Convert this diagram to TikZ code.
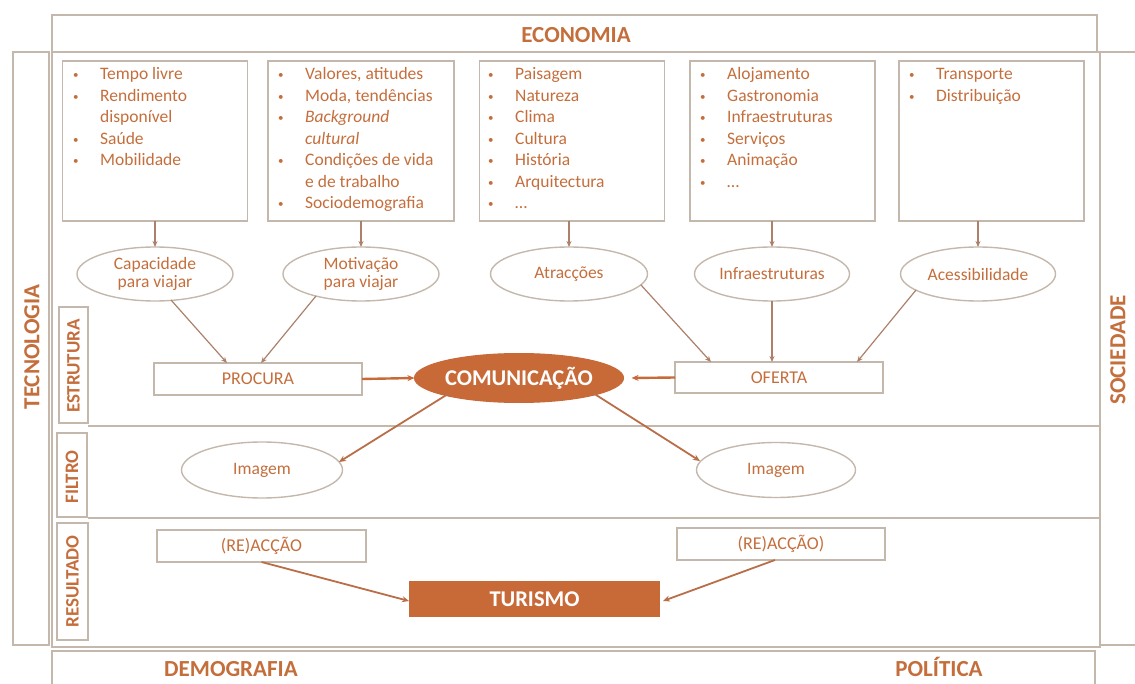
\documentclass[tikz,border=0pt]{standalone}
\usepackage{fontspec}
\setmainfont{Carlito}
\usetikzlibrary{shapes.geometric,arrows.meta,calc}
\definecolor{frm}{RGB}{196,184,172}
\definecolor{txo}{RGB}{196,110,60}
\definecolor{fio}{RGB}{200,106,56}
\definecolor{arc}{RGB}{172,128,106}
\definecolor{arb}{RGB}{185,110,72}
\newcommand\smbul{{\fontsize{11}{11}\selectfont\raisebox{1pt}{•}}}
\newcommand\bitems[1]{{\fontsize{17.5}{21.5}\selectfont\renewcommand\arraystretch{1}\begin{tabular}[t]{@{}p{27pt}@{}l@{}}#1\end{tabular}}}
\begin{document}
\begin{tikzpicture}[x=1pt,y=-1pt,
  frame/.style={draw=frm, line width=1.8pt},
  topbox/.style={draw=frm, line width=1.8pt, rectangle, inner sep=0, outer sep=0},
  listtxt/.style={anchor=base west, inner sep=0, text=txo},
  ell/.style={ellipse, draw=frm, line width=1.4pt, text=txo, align=center, inner sep=0, outer sep=0,
     font=\fontsize{17.5}{18}\selectfont},
  rbox/.style={rectangle, draw=frm, line width=1.8pt, text=txo, inner sep=0, outer sep=0,
     font=\fontsize{18}{20}\selectfont},
  head/.style={text=txo, font=\fontsize{23}{26}\selectfont\bfseries, inner sep=0},
  side/.style={text=txo, font=\fontsize{19}{22}\selectfont\bfseries, inner sep=0, rotate=90},
  arr/.style={draw=arc, line width=1.2pt, -{Stealth[length=6pt,width=5pt]}},
  oarr/.style={draw=fio, line width=2.4pt, -{Stealth[length=7pt,width=6pt]}},
  barr/.style={draw=arb, line width=1.8pt, -{Stealth[length=7pt,width=6pt]}}]
\path[use as bounding box] (0,0) rectangle (1135,684);
\clip (0,0) rectangle (1135,684);
% outer frames
\draw[frame] (52,15) rectangle (1097,52);
\draw[frame] (13,52) rectangle (49,645);
\draw[frame] (1100,52) rectangle (1145,645);
\draw[frame] (52,52) rectangle (1100,647);
\draw[frame] (52,695) -- (52,651) -- (1095,651) -- (1095,695);
\draw[frame] (88,426) -- (1100,426);
\draw[frame] (88,518) -- (1100,518);
\node[head] (eco) at (576,35) {ECONOMIA};
\node[head, rotate=90] (tec) at (32,347) {TECNOLOGIA};
\node[head, rotate=90] (soc) at (1118,350) {SOCIEDADE};
\node[head, anchor=base] (dem) at (231,676) {DEMOGRAFIA};
\node[head, anchor=base] (pol) at (939,676) {POLÍTICA};
% side labels
\draw[frame] (59,307) rectangle (88,423);
\draw[frame] (57,433) rectangle (87,517);
\draw[frame] (57,523) rectangle (88,640);
\node[side] (est) at (73.5,366) {ESTRUTURA};
\node[side] (fil) at (72,477) {FILTRO};
\node[side] (res) at (72.5,581.5) {RESULTADO};
% top boxes
\node[topbox, minimum width=185, minimum height=160] (b1) at (155,141) {};
\node[topbox, minimum width=186, minimum height=160] (b2) at (361,141) {};
\node[topbox, minimum width=185, minimum height=160] (b3) at (572,141) {};
\node[topbox, minimum width=185, minimum height=160] (b4) at (782.5,141) {};
\node[topbox, minimum width=185, minimum height=160] (b5) at (991.5,141) {};
\node[listtxt] (l1) at (73,80) {\bitems{\smbul&Tempo livre\\ \smbul&Rendimento\\ &disponível\\ \smbul&Saúde\\ \smbul&Mobilidade}};
\node[listtxt] (l2) at (278,80) {\bitems{\smbul&Valores, atitudes\\ \smbul&Moda, tendências\\ \smbul&\textit{Background}\\ &\textit{cultural}\\ \smbul&Condições de vida\\ &e de trabalho\\ \smbul&Sociodemografia}};
\node[listtxt] (l3) at (488,80) {\bitems{\smbul&Paisagem\\ \smbul&Natureza\\ \smbul&Clima\\ \smbul&Cultura\\ \smbul&História\\ \smbul&Arquitectura\\ \smbul&\ldots}};
\node[listtxt] (l4) at (700,80) {\bitems{\smbul&Alojamento\\ \smbul&Gastronomia\\ \smbul&Infraestruturas\\ \smbul&Serviços\\ \smbul&Animação\\ \smbul&\ldots}};
\node[listtxt] (l5) at (909,80) {\bitems{\smbul&Transporte\\ \smbul&Distribuição}};
% ellipses
\node[ell, minimum width=156, minimum height=54] (e1) at (155,274) {Capacidade\\para viajar};
\node[ell, minimum width=156, minimum height=54] (e2) at (361,274) {Motivação\\para viajar};
\node[ell, minimum width=157, minimum height=54] (e3) at (569,274) {Atracções};
\node[ell, minimum width=155, minimum height=54] (e4) at (772,274) {Infraestruturas};
\node[ell, minimum width=155, minimum height=54] (e5) at (978,274) {Acessibilidade};
\foreach \i in {1,...,5}{\draw[arr] (e\i.north |- b\i.south) -- (e\i.north);}
% structure row
\node[rbox, minimum width=208, minimum height=32] (procura) at (258,379) {PROCURA};
\node[rbox, minimum width=208, minimum height=31] (oferta) at (779,377.5) {OFERTA};
\node[ellipse, fill=fio, draw=fio, line width=1pt, minimum width=188, minimum height=49, inner sep=0, outer sep=0,
  text=white, font=\fontsize{22.5}{24}\selectfont\bfseries] (com) at (519,378) {COMUNICAÇÃO};
\draw[arr] ($(e1.center)+(16,26)$) -- ($(procura.north)+(-31,0)$);
\draw[arr] ($(e2.center)+(-45,22)$) -- ($(procura.north)+(3,0)$);
\draw[arr] ($(e3.center)+(72,11)$) -- ($(oferta.north)+(-68,0)$);
\draw[arr] (e4.south) -- (e4.south |- oferta.north);
\draw[arr] ($(e5.center)+(-62,16)$) -- ($(oferta.north)+(78,0)$);
\draw[oarr] (procura.east) -- (com.west);
\draw[oarr] (oferta.west) -- ($(com.east)+(8,0)$);
% filter row
\node[ell, minimum width=161, minimum height=56] (img1) at (262,470) {Imagem};
\node[ell, minimum width=159, minimum height=55] (img2) at (776,470) {Imagem};
\draw[barr] ($(com.center)+(-71,16)$) -- ($(img1.center)+(77,-8)$);
\draw[barr] ($(com.center)+(74,15)$) -- ($(img2.center)+(-76,-9)$);
% result row
\node[rbox, minimum width=209, minimum height=32] (re1) at (261.5,546) {(RE)ACÇÃO};
\node[rbox, minimum width=208, minimum height=32] (re2) at (781,544) {(RE)ACÇÃO)};
\node[rectangle, fill=fio, minimum width=251, minimum height=36, inner sep=0, outer sep=0,
  text=white, font=\fontsize{22.5}{24}\selectfont\bfseries] (tur) at (534.5,599) {TURISMO};
\draw[barr] (re1.south) -- ($(tur.west)+(0,2)$);
\draw[barr] ($(re2.south)+(-6,0)$) -- ($(tur.east)+(3,2)$);
\end{tikzpicture}
\end{document}
